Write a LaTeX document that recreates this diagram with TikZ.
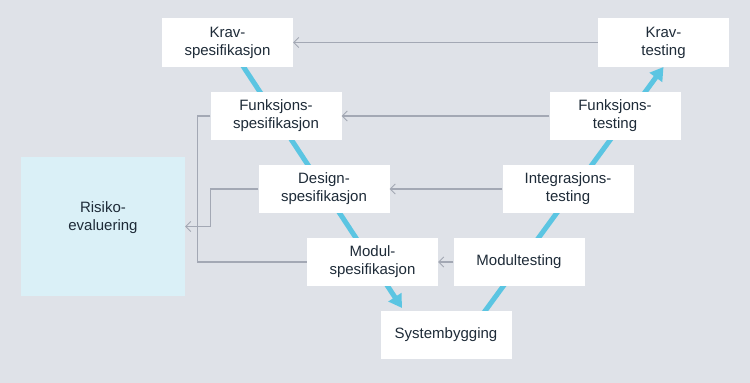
\documentclass[tikz,border=0pt]{standalone}
\usepackage{fontspec}
\setmainfont{Liberation Sans}
\usetikzlibrary{arrows.meta,backgrounds}
\definecolor{bg}{HTML}{DFE2E8}
\definecolor{vblue}{HTML}{5BC5E2}
\definecolor{gline}{HTML}{A3A8B4}
\definecolor{txt}{HTML}{1E2B38}
\definecolor{riskfill}{HTML}{DAF0F7}
\tikzset{
  stepbox/.style={fill=white, draw=none, minimum width=131pt, minimum height=48.5pt,
    inner sep=0pt, align=center, text=txt, font=\fontsize{15pt}{18pt}\selectfont},
  garrow/.style={draw=gline, line width=1.1pt, -{Straight Barb[length=5pt,width=10pt,line width=0.9pt]}},
  gline/.style={draw=gline, line width=1.1pt},
  varrow/.style={draw=vblue, line width=5pt, -{Triangle[length=13pt,width=15pt]}}
}
\begin{document}
\begin{tikzpicture}[x=1pt,y=-1pt]
\useasboundingbox (0,0) rectangle (750,383);
\node[stepbox] (kspec) at (227.5,42.5) {Krav-\\spesifikasjon};
\node[stepbox] (ktest) at (663.5,42.5) {Krav-\\testing};
\node[stepbox] (fspec) at (276,116) {Funksjons-\\spesifikasjon};
\node[stepbox] (ftest) at (615,116) {Funksjons-\\testing};
\node[stepbox] (dspec) at (324,189) {Design-\\spesifikasjon};
\node[stepbox] (itest) at (568,189) {Integrasjons-\\testing};
\node[stepbox] (mspec) at (372.5,262) {Modul-\\spesifikasjon};
\node[stepbox] (mtest) at (519,262) {Modultesting};
\node[stepbox] (sys) at (446,335) {Systembygging};
\node[fill=riskfill, minimum width=164pt, minimum height=139pt, inner sep=0pt] (risk) at (103,226.5) {};
\node[align=center, text=txt, font=\fontsize{15pt}{18pt}\selectfont, inner sep=0pt] (risktext) at (103,218) {Risiko-\\evaluering};
\coordinate (ltip) at (402,308);
\coordinate (rstart) at (467.5,335);
\begin{pgfonlayer}{background}
\fill[bg] (0,0) rectangle (750,383);
\draw[varrow] (kspec.center) -- (ltip);
\draw[varrow] (rstart) -- (ktest.south);
\end{pgfonlayer}
\draw[garrow] (ktest.west) -- (kspec.east);
\draw[garrow] (ftest.west) -- (fspec.east);
\draw[garrow] (itest.west) -- (dspec.east);
\draw[garrow] (mtest.west) -- (mspec.east);
\draw[gline] (fspec.west) -- ++(-12.5,0) |- (mspec.west);
\draw[garrow] (dspec.west) -- ++(-48,0) |- (risk.east);
\end{tikzpicture}
\end{document}
